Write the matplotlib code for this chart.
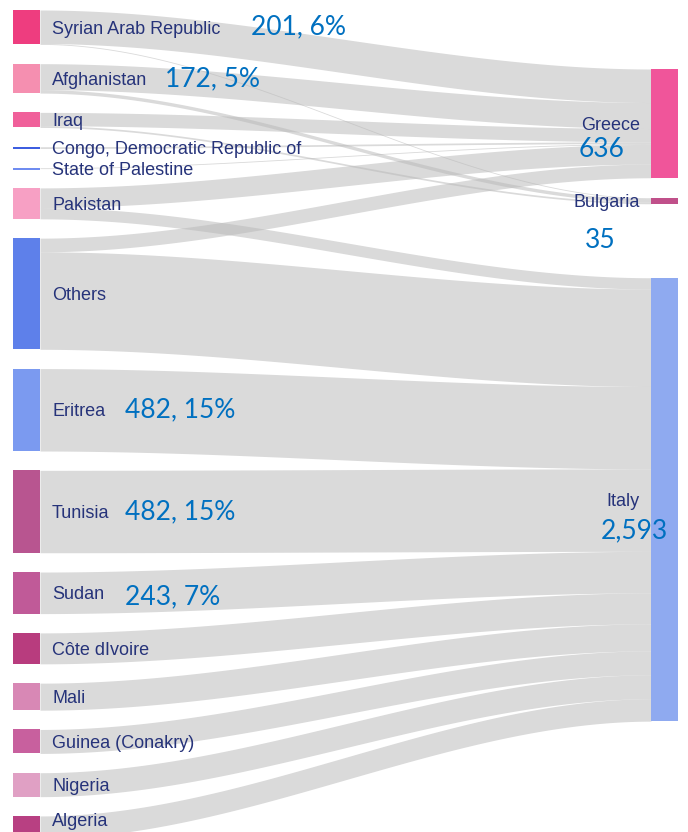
"""
Sankey of arrivals by nationality -> country of first arrival.
Drawn by hand with matplotlib patches and fill_between.
"""
import numpy as np
import matplotlib.pyplot as plt
from matplotlib.patches import Rectangle

# ---- data ----
origins = ["Syrian Arab Republic", "Afghanistan", "Iraq",
           "Congo, Democratic Republic of", "State of Palestine", "Pakistan",
           "Others", "Eritrea", "Tunisia", "Sudan", "Côte dIvoire", "Mali",
           "Guinea (Conakry)", "Nigeria", "Algeria"]
destinations = ["Greece", "Bulgaria", "Italy"]

link_src = ["Syrian Arab Republic", "Syrian Arab Republic",
            "Afghanistan", "Afghanistan",
            "Iraq", "Iraq",
            "Congo, Democratic Republic of", "State of Palestine",
            "Pakistan", "Pakistan",
            "Others", "Others",
            "Eritrea", "Tunisia", "Sudan", "Côte dIvoire", "Mali",
            "Guinea (Conakry)", "Nigeria", "Algeria"]
link_dst = ["Greece", "Bulgaria",
            "Greece", "Bulgaria",
            "Greece", "Bulgaria",
            "Greece", "Greece",
            "Greece", "Italy",
            "Greece", "Italy",
            "Italy", "Italy", "Italy", "Italy", "Italy",
            "Italy", "Italy", "Italy"]
link_val = [196, 5,
            152, 20,
            78, 10,
            10, 5,
            115, 66,
            80, 570,
            482, 482, 243, 181, 158,
            140, 140, 131]

# blue call-outs added on top of the chart
callout_node = ["Syrian Arab Republic", "Afghanistan", "Eritrea", "Tunisia",
                "Sudan", "Greece", "Bulgaria", "Italy"]
callout_text = ["201, 6%", "172, 5%", "482, 15%", "482, 15%", "243, 7%",
                "636", "35", "2,593"]

# ---- styling ----
origin_colors = ["#ee3d7f", "#f58fb0", "#f0609a", "#3d5ee0", "#6f8cf0",
                 "#f7a0c4", "#5e80ea", "#7b9af0", "#b85590", "#c05a98",
                 "#b83c7e", "#d888b5", "#c8609e", "#e0a0c4", "#b84082"]
dest_colors = ["#f0559a", "#c0508a", "#8faaf0"]
label_color = "#26337a"
callout_color = "#0070c0"

W, H = 688, 832
scale = 0.171          # px per person
gap_left = 19.3
left_top = 10
right_top = 69
right_gaps = [20, 74]
x_left, x_right, node_w = 13, 651, 27

# offsets of call-outs relative to node centre (px)
callout_pos = {
    "Syrian Arab Republic": (251, 0), "Afghanistan": (165, 0),
    "Eritrea": (125, 0), "Tunisia": (125, 0), "Sudan": (125, 4),
    "Greece": (579, 26), "Bulgaria": (585, 40), "Italy": (601, 31),
}

# ---- layout ----
src_total = {n: 0 for n in origins}
dst_total = {n: 0 for n in destinations}
for s, d, v in zip(link_src, link_dst, link_val):
    src_total[s] += v
    dst_total[d] += v

node_y = {}
y = left_top
for n in origins:
    node_y[n] = (y, y + src_total[n] * scale)
    y += src_total[n] * scale + gap_left
y = right_top
for i, n in enumerate(destinations):
    node_y[n] = (y, y + dst_total[n] * scale)
    y += dst_total[n] * scale + (right_gaps[i] if i < len(right_gaps) else 0)

fig = plt.figure(figsize=(W / 100, H / 100), dpi=100)
ax = fig.add_axes([0, 0, 1, 1])
ax.set_xlim(0, W)
ax.set_ylim(H, 0)
ax.axis("off")

# links: ordered by target at the source side, by source at the target side
src_cursor = {n: node_y[n][0] for n in origins}
dst_cursor = {n: node_y[n][0] for n in destinations}
order = sorted(range(len(link_val)),
               key=lambda i: (origins.index(link_src[i]), destinations.index(link_dst[i])))
in_order = sorted(range(len(link_val)),
                  key=lambda i: (destinations.index(link_dst[i]), origins.index(link_src[i])))
y0s, y1s = {}, {}
for i in order:
    y0s[i] = src_cursor[link_src[i]]
    src_cursor[link_src[i]] += link_val[i] * scale
for i in in_order:
    y1s[i] = dst_cursor[link_dst[i]]
    dst_cursor[link_dst[i]] += link_val[i] * scale

xs = np.linspace(x_left + node_w, x_right, 200)
t = (xs - xs[0]) / (xs[-1] - xs[0])
ease = 3 * t ** 2 - 2 * t ** 3
for i in range(len(link_val)):
    top = y0s[i] + (y1s[i] - y0s[i]) * ease
    th = link_val[i] * scale
    ax.fill_between(xs, top, top + th, color="#b8b8b8", alpha=0.52, lw=0)

# nodes (labels centred on the visible part of the node, kept inside the figure)
for n, c in zip(origins, origin_colors):
    y0, y1 = node_y[n]
    ax.add_patch(Rectangle((x_left, y0), node_w, max(y1 - y0, 2), color=c, lw=0))
    ly = min((y0 + min(y1, H)) / 2, H - 12)
    ax.text(52, ly, n, fontsize=13, color=label_color,
            family="Liberation Sans", va="center_baseline", ha="left")
for n, c in zip(destinations, dest_colors):
    y0, y1 = node_y[n]
    ax.add_patch(Rectangle((x_right, y0), node_w, max(y1 - y0, 3), color=c, lw=0))
    ax.text(640, (y0 + y1) / 2, n, fontsize=13, color=label_color,
            family="Liberation Sans", va="center_baseline", ha="right")

# call-outs
for n, txt in zip(callout_node, callout_text):
    y0, y1 = node_y[n]
    x, dy = callout_pos[n]
    ax.text(x, (y0 + y1) / 2 + dy, txt, fontsize=19, color=callout_color,
            family="Lato", va="center", ha="left")

fig.savefig("out.png", dpi=100)
